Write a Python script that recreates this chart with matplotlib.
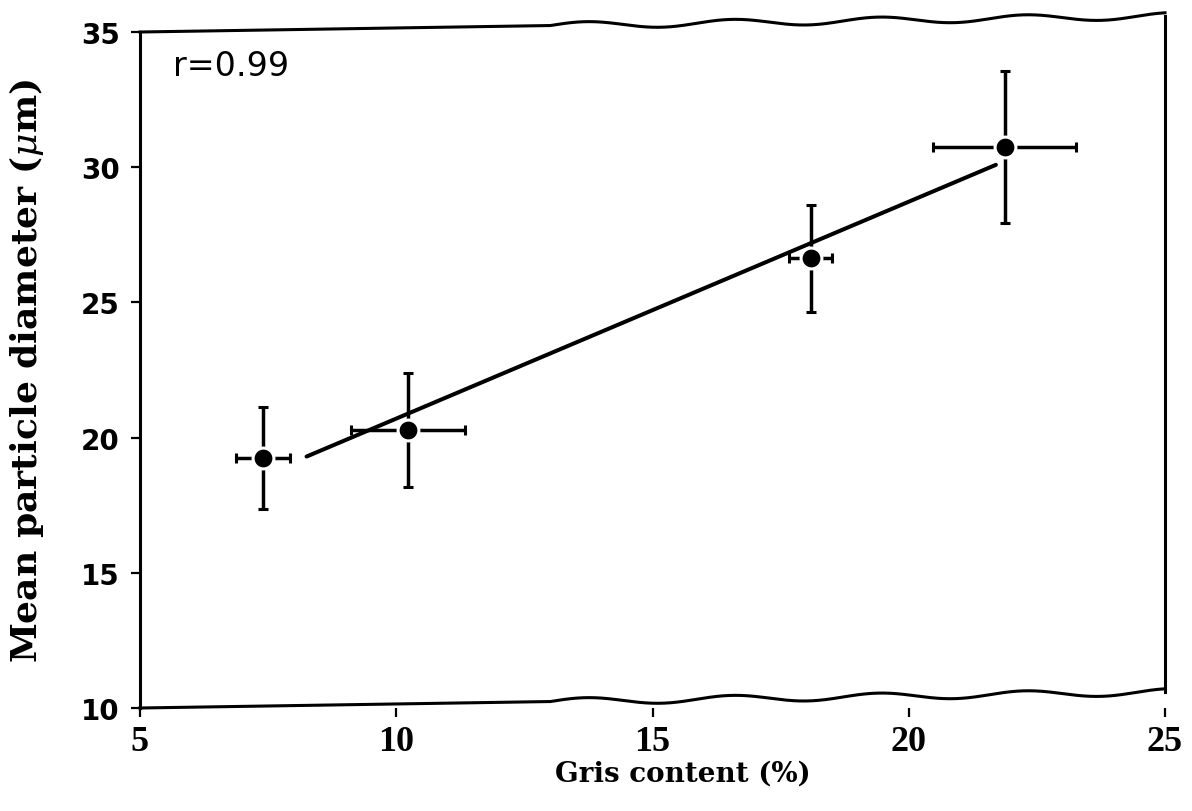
import numpy as np
import matplotlib
matplotlib.use("Agg")
import matplotlib.pyplot as plt

# Data
gris = [7.40, 10.23, 18.09, 21.87]
diam = [19.25, 20.28, 26.64, 30.75]
gris_err = [0.53, 1.12, 0.42, 1.40]
diam_err = [1.9, 2.1, 1.98, 2.8]
fit_range = [8.25, 21.7]
r_text = "r=0.99"
xticks = [5, 10, 15, 20, 25]
yticks = [10, 15, 20, 25, 30, 35]

plt.rcParams['font.family'] = ['DejaVu Serif']
plt.rcParams['mathtext.fontset'] = 'dejavuserif'

fig = plt.figure(figsize=(11.92, 8.12), dpi=100)
ax = fig.add_axes([140 / 1192, 1 - 709 / 812, 1025 / 1192, 676 / 812])

# regression line
slope, intercept = np.polyfit(gris, diam, 1)
fx = np.array(fit_range)
ax.plot(fx, slope * fx + intercept, color='black', lw=2.9, zorder=2,
        solid_capstyle='round')

ax.errorbar(gris, diam, xerr=gris_err, yerr=diam_err, fmt='o', color='black',
            ecolor='black', elinewidth=2.5, capsize=3.6, capthick=2.5,
            markersize=15, markeredgecolor='white', markeredgewidth=2.2, zorder=3)

ax.set_xlim(5, 25)
ax.set_ylim(10, 35)
ax.set_xticks(xticks)
ax.set_yticks(yticks)
ax.tick_params(axis='both', direction='out', length=6.5, width=1.6)
ax.tick_params(axis='y', pad=8)
ax.tick_params(axis='x', pad=6)
ax.tick_params(top=False, right=False)
for lab in ax.get_yticklabels():
    lab.set_fontfamily('DejaVu Sans')
    lab.set_fontweight('bold')
    lab.set_fontsize(20)
for lab in ax.get_xticklabels():
    lab.set_fontfamily('Liberation Serif')
    lab.set_fontweight('bold')
    lab.set_fontsize(26)

for s in ['right', 'bottom', 'top']:
    ax.spines[s].set_visible(False)
ax.spines['left'].set_linewidth(2.2)

# hand-drawn frame: slightly tilted top/bottom borders with wavy right parts
tilt = 16 / 676
t = np.linspace(0, 1, 1000)
amp = 0.005
start = 0.40
wave = np.where(t > start, amp * np.sin((t - start) * 2 * np.pi * 7), 0)
ax.plot(t, 1 + tilt * t + wave, color='black', lw=2.2,
        transform=ax.transAxes, clip_on=False)
ax.plot(t, tilt * t + wave, color='black', lw=2.2,
        transform=ax.transAxes, clip_on=False)
ax.plot([1, 1], [tilt, 1 + tilt], color='black', lw=2.2,
        transform=ax.transAxes, clip_on=False)

ax.set_xlabel('Gris content (%)', fontsize=20, fontweight='bold')
ax.xaxis.set_label_coords((683 - 140) / 1025, (709 - 761) / 676)
ax.set_ylabel(r'Mean particle diameter ($\mu$m)', fontsize=26,
              fontfamily='DejaVu Serif', fontweight='bold')
ax.yaxis.set_label_coords((46 - 140) / 1025, 0.5)
ax.text(0.032, 0.951, r_text, transform=ax.transAxes, fontsize=24,
        fontfamily='DejaVu Sans', va='center', ha='left')

fig.savefig('out.png', dpi=100)
